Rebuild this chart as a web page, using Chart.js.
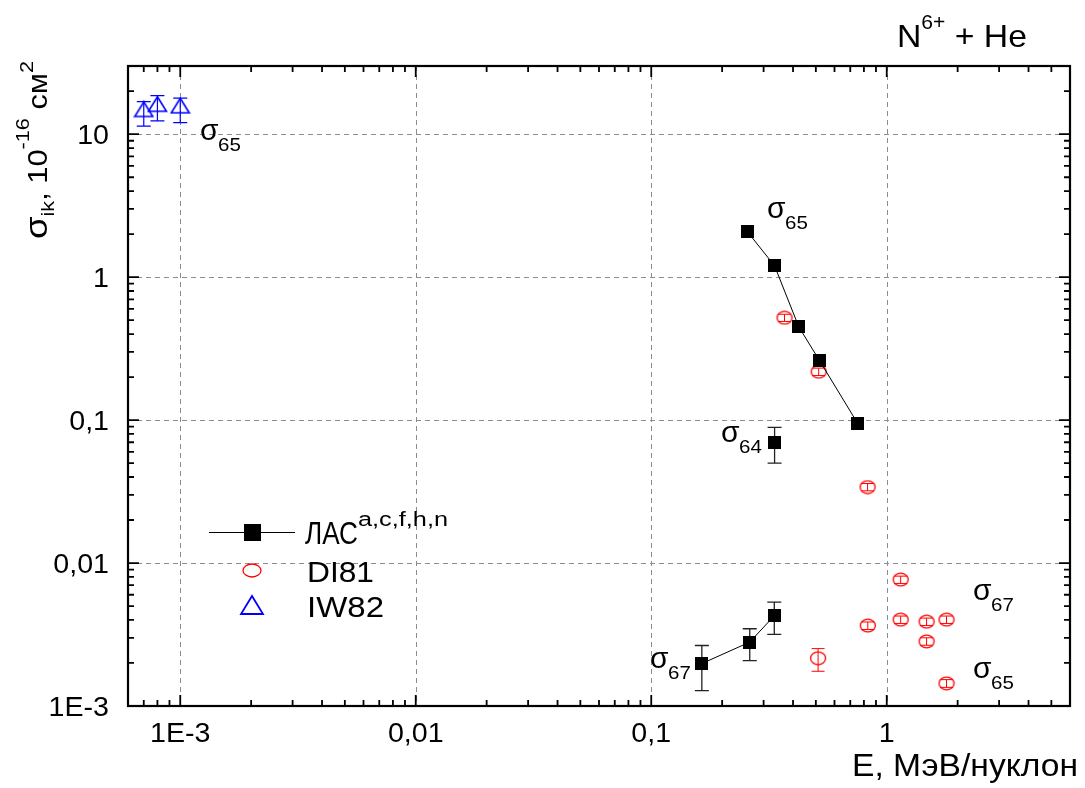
<!DOCTYPE html>
<html>
<head>
<meta charset="utf-8">
<script src="https://cdn.jsdelivr.net/npm/chart.js@4.4.1/dist/chart.umd.min.js"></script>
<style>
  html, body { margin: 0; padding: 0; background: #fff; }
  #wrap { width: 1085px; height: 788px; position: relative; }
</style>
</head>
<body>
<div id="wrap"><canvas id="sigmaChart"></canvas></div>
<script>
// ЛАС points, sigma65 branch (joined by a line)
const lasS65Energy = [0.256, 0.334, 0.423, 0.519, 0.752];
const lasS65Sigma = [2.08, 1.2, 0.45, 0.26, 0.095];
// ЛАС sigma64
const lasS64Energy = [0.334];
const lasS64Sigma = [0.07];
const lasS64Low = [0.05];
const lasS64High = [0.089];
// ЛАС sigma67 (joined by a line)
const lasS67Energy = [0.164, 0.262, 0.333];
const lasS67Sigma = [0.00198, 0.0028, 0.00428];
const lasS67Low = [0.00128, 0.00208, 0.00317];
const lasS67High = [0.00265, 0.00347, 0.00533];

// DI81 (red circles)
const di81Energy = [0.368, 0.514, 0.829, 0.511, 0.831, 1.146, 1.146, 1.476, 1.476, 1.794, 1.794];
const di81Sigma = [0.52, 0.218, 0.034, 0.00216, 0.00365, 0.00766, 0.00402, 0.00389, 0.00283, 0.00402, 0.00144];
const di81Low = [0.49, 0.205, 0.032, 0.00175, 0.00343, 0.0072, 0.00378, 0.00366, 0.00266, 0.00378, 0.00135];
const di81High = [0.55, 0.231, 0.036, 0.00252, 0.00387, 0.0081, 0.00426, 0.00412, 0.003, 0.00426, 0.00153];

// IW82 (blue triangles)
const iw82Energy = [0.0007, 0.0008, 0.001];
const iw82Sigma = [14.9, 16.2, 15.8];
const iw82Low = [11.4, 12.4, 12.05];
const iw82High = [16.9, 18.6, 17.9];

// axes
const xMajorTicks = [0.001, 0.01, 0.1, 1];
const xTickLabels = ["1E-3", "0,01", "0,1", "1"];
const yMajorTicks = [0.001, 0.01, 0.1, 1, 10];
const yTickLabels = ["1E-3", "0,01", "0,1", "1", "10"];
const xMin = 6e-4, xMax = 6;
const yMin = 1e-3, yMax = 30;

const FONT = '"Liberation Sans", Arial, sans-serif';

function zip(xs, ys) {
  return xs.map((x, i) => ({ x: x, y: ys[i] }));
}

function minorTicks(min, max) {
  const out = [];
  for (let e = -5; e <= 3; e++) {
    for (let m = 2; m <= 9; m++) {
      const v = m * Math.pow(10, e);
      if (v > min * 1.0001 && v < max * 0.9999) out.push(v);
    }
  }
  return out;
}

function makeMarker(w, h, draw) {
  const c = document.createElement("canvas");
  c.width = w;
  c.height = h;
  draw(c.getContext("2d"), w, h);
  return c;
}

const squareMarker = makeMarker(13, 13, (g, w, h) => {
  g.fillStyle = "#000";
  g.fillRect(0, 0, w, h);
});
const circleMarker = makeMarker(18, 15, (g, w, h) => {
  g.strokeStyle = "#ff0000";
  g.lineWidth = 1.3;
  g.beginPath();
  g.ellipse(w / 2, h / 2, 7.5, 6.3, 0, 0, Math.PI * 2);
  g.stroke();
});
const triMarker = makeMarker(21, 18, (g, w, h) => {
  g.strokeStyle = "#0000ff";
  g.lineWidth = 1.6;
  g.beginPath();
  g.moveTo(w / 2, 1.5);
  g.lineTo(w - 1.5, h - 2);
  g.lineTo(1.5, h - 2);
  g.closePath();
  g.stroke();
});

// draw a run of text pieces, optionally stretched to a width
function drawParts(ctx, parts, x, y, opts) {
  opts = opts || {};
  let natural = 0;
  parts.forEach(p => {
    ctx.font = p.size + "px " + FONT;
    p.w = ctx.measureText(p.text).width;
    natural += p.w;
  });
  const sx = opts.fit ? opts.fit / natural : (opts.sx || 1);
  const total = natural * sx;
  let x0 = x;
  if (opts.align === "right") x0 = x - total;
  else if (opts.align === "center") x0 = x - total / 2;
  ctx.save();
  ctx.translate(x0, y);
  ctx.scale(sx, 1);
  ctx.fillStyle = "#000";
  ctx.textBaseline = "alphabetic";
  ctx.textAlign = "left";
  let cur = 0;
  parts.forEach(p => {
    ctx.font = p.size + "px " + FONT;
    ctx.fillText(p.text, cur, p.dy || 0);
    cur += p.w;
  });
  ctx.restore();
}

function sigmaLabel(ctx, sub, x, y) {
  drawParts(ctx, [{ text: "σ", size: 30 }], x, y);
  drawParts(ctx, [{ text: sub, size: 19 }], x + 18, y + 11, { sx: 1.08 });
}

const framePlugin = {
  id: "framePlugin",
  beforeDatasetsDraw(chart) {
    const ctx = chart.ctx;
    const xs = chart.scales.x, ys = chart.scales.y;
    const a = chart.chartArea;
    ctx.save();
    // dashed grid
    ctx.strokeStyle = "#8c8c8c";
    ctx.lineWidth = 1;
    ctx.setLineDash([5, 4]);
    xMajorTicks.forEach(v => {
      const px = Math.round(xs.getPixelForValue(v)) + 0.5;
      ctx.beginPath();
      ctx.moveTo(px, a.top);
      ctx.lineTo(px, a.bottom);
      ctx.stroke();
    });
    yMajorTicks.forEach(v => {
      const py = Math.round(ys.getPixelForValue(v)) + 0.5;
      if (py > a.bottom - 2) return;
      ctx.beginPath();
      ctx.moveTo(a.left, py);
      ctx.lineTo(a.right, py);
      ctx.stroke();
    });
    ctx.setLineDash([]);
    // error bars
    chart.data.datasets.forEach(ds => {
      if (!ds.errLow) return;
      ctx.strokeStyle = ds.errColor;
      ctx.lineWidth = ds.errWidth;
      ds.data.forEach((p, i) => {
        const px = xs.getPixelForValue(p.x);
        const lo = ys.getPixelForValue(ds.errLow[i]);
        const hi = ys.getPixelForValue(ds.errHigh[i]);
        const c = ds.capWidth / 2;
        ctx.beginPath();
        ctx.moveTo(px, lo);
        ctx.lineTo(px, hi);
        ctx.moveTo(px - c, lo);
        ctx.lineTo(px + c, lo);
        ctx.moveTo(px - c, hi);
        ctx.lineTo(px + c, hi);
        ctx.stroke();
      });
    });
    ctx.restore();
  },
  afterDatasetsDraw(chart) {
    const ctx = chart.ctx;
    const xs = chart.scales.x, ys = chart.scales.y;
    const a = chart.chartArea;
    ctx.save();
    // frame
    ctx.strokeStyle = "#000";
    ctx.lineWidth = 2.2;
    ctx.strokeRect(a.left, a.top, a.right - a.left, a.bottom - a.top);
    // inward ticks on all four sides
    ctx.lineWidth = 1.8;
    const tickX = (v, len) => {
      const px = xs.getPixelForValue(v);
      ctx.beginPath();
      ctx.moveTo(px, a.bottom);
      ctx.lineTo(px, a.bottom - len);
      ctx.moveTo(px, a.top);
      ctx.lineTo(px, a.top + len);
      ctx.stroke();
    };
    const tickY = (v, len) => {
      const py = ys.getPixelForValue(v);
      ctx.beginPath();
      ctx.moveTo(a.left, py);
      ctx.lineTo(a.left + len, py);
      ctx.moveTo(a.right, py);
      ctx.lineTo(a.right - len, py);
      ctx.stroke();
    };
    xMajorTicks.forEach(v => tickX(v, 11));
    minorTicks(xMin, xMax).forEach(v => tickX(v, 6));
    yMajorTicks.forEach(v => tickY(v, 11));
    minorTicks(yMin, yMax).forEach(v => tickY(v, 6));

    // tick labels
    xMajorTicks.forEach((v, i) => {
      drawParts(ctx, [{ text: xTickLabels[i], size: 27 }], xs.getPixelForValue(v), 742, { align: "center", sx: 1.06 });
    });
    yMajorTicks.forEach((v, i) => {
      drawParts(ctx, [{ text: yTickLabels[i], size: 27 }], 109, ys.getPixelForValue(v) + 9.5, { align: "right", sx: 1.06 });
    });

    // axis titles
    drawParts(ctx, [{ text: "Е, МэВ/нуклон", size: 31 }], 1078, 776, { align: "right", fit: 226 });
    ctx.save();
    ctx.translate(47, 150);
    ctx.rotate(-Math.PI / 2);
    drawParts(ctx, [
      { text: "σ", size: 32 },
      { text: "ik", size: 19, dy: 7 },
      { text: ", 10", size: 27 },
      { text: "-16", size: 19, dy: -18 },
      { text: " см", size: 27 },
      { text: "2", size: 19, dy: -14 }
    ], 0, 0, { align: "center", fit: 178 });
    ctx.restore();

    // top-right title
    drawParts(ctx, [
      { text: "N", size: 32 },
      { text: "6+", size: 20, dy: -18 },
      { text: " + He", size: 32 }
    ], 897, 47, { fit: 130 });

    // sigma annotations
    sigmaLabel(ctx, "65", 200, 140);
    sigmaLabel(ctx, "65", 767, 218);
    sigmaLabel(ctx, "64", 721, 442);
    sigmaLabel(ctx, "67", 650, 668);
    sigmaLabel(ctx, "67", 973, 600);
    sigmaLabel(ctx, "65", 973, 678);

    // legend
    ctx.strokeStyle = "#000";
    ctx.lineWidth = 1;
    ctx.beginPath();
    ctx.moveTo(209, 532.5);
    ctx.lineTo(295, 532.5);
    ctx.stroke();
    ctx.fillStyle = "#000";
    ctx.fillRect(244, 524, 17, 17);
    drawParts(ctx, [{ text: "ЛАС", size: 31 }], 305, 544, { fit: 53 });
    drawParts(ctx, [{ text: "a,c,f,h,n", size: 20 }], 358, 526, { fit: 90 });

    ctx.strokeStyle = "#ff0000";
    ctx.lineWidth = 1.3;
    ctx.beginPath();
    ctx.ellipse(252, 570.5, 9, 6.5, 0, 0, Math.PI * 2);
    ctx.stroke();
    drawParts(ctx, [{ text: "DI81", size: 30 }], 307, 582, { fit: 67 });

    ctx.strokeStyle = "#0000ff";
    ctx.lineWidth = 1.8;
    ctx.beginPath();
    ctx.moveTo(252, 596);
    ctx.lineTo(263, 614);
    ctx.lineTo(241, 614);
    ctx.closePath();
    ctx.stroke();
    drawParts(ctx, [{ text: "IW82", size: 30 }], 307, 617, { fit: 77 });

    ctx.restore();
  }
};

const ctx = document.getElementById("sigmaChart").getContext("2d");
const sigmaChart = new Chart(ctx, {
  type: "scatter",
  data: {
    datasets: [
      {
        label: "ЛАС s65",
        data: zip(lasS65Energy, lasS65Sigma),
        showLine: true,
        borderColor: "#000",
        borderWidth: 1,
        pointStyle: squareMarker,
        pointRadius: 6
      },
      {
        label: "ЛАС s64",
        data: zip(lasS64Energy, lasS64Sigma),
        pointStyle: squareMarker,
        pointRadius: 6,
        errLow: lasS64Low, errHigh: lasS64High,
        errColor: "#222", errWidth: 1.3, capWidth: 14
      },
      {
        label: "ЛАС s67",
        data: zip(lasS67Energy, lasS67Sigma),
        showLine: true,
        borderColor: "#000",
        borderWidth: 1,
        pointStyle: squareMarker,
        pointRadius: 6,
        errLow: lasS67Low, errHigh: lasS67High,
        errColor: "#222", errWidth: 1.3, capWidth: 14
      },
      {
        label: "DI81",
        data: zip(di81Energy, di81Sigma),
        pointStyle: circleMarker,
        pointRadius: 6,
        errLow: di81Low, errHigh: di81High,
        errColor: "#ff0000", errWidth: 1, capWidth: 13
      },
      {
        label: "IW82",
        data: zip(iw82Energy, iw82Sigma),
        pointStyle: triMarker,
        pointRadius: 6,
        errLow: iw82Low, errHigh: iw82High,
        errColor: "#0000ff", errWidth: 1.2, capWidth: 14
      }
    ]
  },
  options: {
    responsive: true,
    maintainAspectRatio: false,
    animation: false,
    devicePixelRatio: 1,
    layout: { padding: { top: 66, right: 15, left: 0, bottom: 0 } },
    plugins: {
      legend: { display: false },
      tooltip: { enabled: false }
    },
    scales: {
      x: {
        type: "logarithmic",
        min: xMin,
        max: xMax,
        grid: { display: false, drawTicks: false },
        border: { display: false },
        ticks: { display: false },
        afterFit(scale) { scale.height = 82; }
      },
      y: {
        type: "logarithmic",
        min: yMin,
        max: yMax,
        grid: { display: false, drawTicks: false },
        border: { display: false },
        ticks: { display: false },
        afterFit(scale) { scale.width = 128; }
      }
    }
  },
  plugins: [framePlugin]
});
</script>
</body>
</html>
